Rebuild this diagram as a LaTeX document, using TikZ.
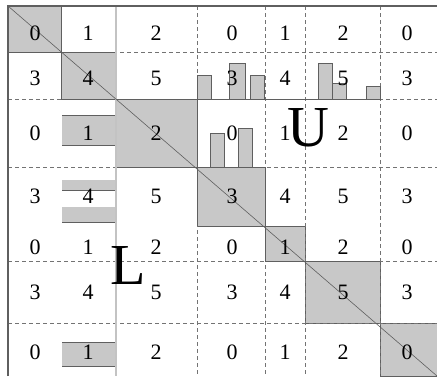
\documentclass[tikz,border=0pt]{standalone}
\usepackage{fontspec}
\setmainfont{Liberation Serif}

\definecolor{blockgray}{RGB}{200,200,200}
\definecolor{linegray}{RGB}{95,95,95}
\definecolor{dashgray}{RGB}{115,115,115}
\definecolor{palegray}{RGB}{195,195,195}

\tikzset{
  blk/.style={fill=blockgray,draw=linegray,line width=0.7pt},
  vbar/.style={fill=blockgray,draw=linegray,line width=0.5pt},
  sep/.style={draw=dashgray,dash pattern=on 4pt off 3pt,line width=0.6pt},
  edge/.style={draw=linegray,line width=0.9pt},
  num/.style={anchor=base,inner sep=0pt,font=\fontsize{22}{24}\selectfont},
  big/.style={anchor=base,inner sep=0pt,font=\fontsize{58}{60}\selectfont}
}

\begin{document}
\begin{tikzpicture}[x=1pt,y=-1pt]
  \useasboundingbox (0,0) rectangle (437,376);
  % diagonal blocks
  \fill[blk] (8,6) rectangle (61,52);
  \fill[blk] (61,52) rectangle (116,99);
  \fill[blk] (116,99) rectangle (197,167);
  \fill[blk] (197,167) rectangle (265,226);
  \fill[blk] (265,226) rectangle (305,261);
  \fill[blk] (305,261) rectangle (380,323);
  \fill[blk] (380,323) rectangle (437,376);
  \draw[blk,fill=none] (265,226) rectangle (305,261);
  \draw[blk,fill=none] (305,261) rectangle (380,323);
  \draw[blk,fill=none] (380,323) -- (380,376) (380,323) -- (437,323);
  % dashed separators
  \foreach \y in {52,99,167,261,323}
    \draw[sep] (8,\y) -- (437,\y);
  \foreach \x in {197,265,305,380}
    \draw[sep] (\x,6) -- (\x,376);
  % solid separators
  \draw[edge] (8,52) -- (116,52);
  \draw[edge] (61,99) -- (380,99);
  \draw[edge] (116,167) -- (265,167);
  \draw[edge] (197,99) -- (197,226);
  \draw[edge] (265,167) -- (265,261);
  \draw[edge] (265,261) -- (380,261);
  \draw[draw=palegray,line width=1.5pt] (116,6) -- (116,376);
  % bars of L
  \fill[blockgray] (62,115) rectangle (115,145);
  \draw[edge] (62,115) -- (115,115) (62,145) -- (115,145);
  \fill[blockgray] (62,180) rectangle (115,191);
  \draw[edge] (62,190) -- (115,190);
  \fill[blockgray] (62,207) rectangle (115,222);
  \draw[edge] (62,222) -- (115,222);
  \fill[blockgray] (62,342) rectangle (115,366);
  \draw[edge] (62,342) -- (115,342) (62,366) -- (115,366);
  % bars of U
  \foreach \xa/\xb/\yt in {197/211/75,229/245/63,250/264/75,318/332/63,332/346/83,366/380/86}
    \draw[vbar] (\xa,99) rectangle (\xb,\yt);
  \foreach \xa/\xb/\yt in {210/224/133,238/252/128}
    \draw[vbar] (\xa,167) rectangle (\xb,\yt);
  % border and diagonal
  \draw[edge,line width=1.2pt] (8,376) -- (8,6) -- (437,6);
  \coordinate (tl) at (8,6);
  \coordinate (br) at (437,376);
  \draw[linegray,line width=0.6pt] (tl) -- (br);
  % entries
  \foreach \r/\yb in {0/40,1/85,2/140,3/203,4/254,5/299,6/359} {
    \foreach \c/\xc in {0/35,1/88,2/156,3/232,4/285,5/343,6/407} {
      \pgfmathtruncatemacro\val{mod(\r,2)*3+mod(\c,3)}
      \node[num] (n\r\c) at (\xc,\yb) {\val};
    }
  }
  \node[big] (lowL) at (128,284) {L};
  \node[big] (upU) at (308,146) {U};
\end{tikzpicture}
\end{document}
